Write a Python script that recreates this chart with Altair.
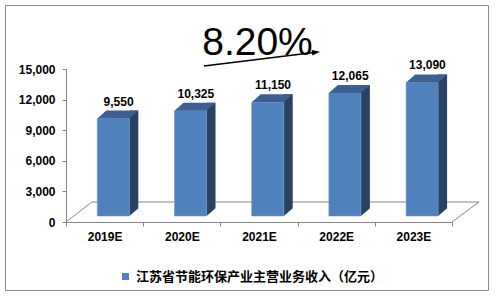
import altair as alt
import pandas as pd

# ---- data ----
years = ["2019E", "2020E", "2021E", "2022E", "2023E"]
revenue = [9550, 10325, 11150, 12065, 13090]
series_name = "江苏省节能环保产业主营业务收入（亿元）"
growth_label = "8.20%"
y_ticks = [0, 3000, 6000, 9000, 12000, 15000]

df = pd.DataFrame({"year": years, "value": revenue, "series": [series_name] * len(years)})
one = pd.DataFrame({"k": [0]})

# ---- style ----
W, H = 386, 153
FRONT = "#4F81BD"
SIDE = "#2A4262"
TOP = "#3B6091"
GRID = "#868686"
LATIN = "Liberation Sans"
CJK = "Noto Sans CJK SC"

TOP_PATH = "M-1,0.195L0.561,0.195L1,-0.195L-0.561,-0.195Z"
BOTTOM_CUT = "M-1,0.9L1.1,0.9L1.1,-0.9Z"
ARROW_HEAD = "M-1,-0.7L1,0L-1,0.7Z"

x_enc = alt.X(
    "year:N", sort=years,
    scale=alt.Scale(paddingInner=0, paddingOuter=0),
    axis=alt.Axis(title=None, labelAngle=0, labelFont=LATIN, labelFontSize=12,
                  labelFontWeight="bold", labelColor="black", tickBand="extent",
                  tickSize=4, tickColor=GRID, domainColor=GRID, labelPadding=5,
                  grid=False),
)


def y_enc(field):
    return alt.Y(
        f"{field}:Q",
        scale=alt.Scale(domain=[0, 15000], nice=False, zero=True),
        axis=alt.Axis(title=None, values=y_ticks, format=",.0f", labelFont=LATIN,
                      labelFontSize=12, labelFontWeight="bold", labelColor="black",
                      tickSize=4, tickColor=GRID, domainColor=GRID, labelPadding=7,
                      grid=False),
    )


base = alt.Chart(df)

frame = alt.Chart(one).mark_rect(fillOpacity=0, stroke="#8a8a8a", strokeWidth=1).encode(
    x=alt.value(-60.5), x2=alt.value(422.5), y=alt.value(-63.5), y2=alt.value(221.5)
)

floor_back = alt.Chart(one).mark_rule(color=GRID, strokeWidth=1).encode(
    x=alt.value(26), x2=alt.value(413), y=alt.value(133), y2=alt.value(133)
)
floor_left = alt.Chart(one).mark_rule(color=GRID, strokeWidth=1).encode(
    x=alt.value(0), x2=alt.value(26), y=alt.value(153), y2=alt.value(133)
)
floor_right = alt.Chart(one).mark_rule(color=GRID, strokeWidth=1).encode(
    x=alt.value(386), x2=alt.value(413), y=alt.value(153), y2=alt.value(133)
)

side = base.mark_bar(size=9, xOffset=29.2, yOffset=-14, y2Offset=-6, color=SIDE).encode(
    x=x_enc, y=y_enc("value"), y2=alt.datum(0)
)
cut = base.transform_calculate(zero="0").mark_point(
    shape=BOTTOM_CUT, size=81, filled=True, opacity=1, color="white",
    strokeWidth=0, xOffset=29.2, yOffset=-10).encode(
    x=x_enc, y=y_enc("zero")
)
front = base.mark_bar(size=32, xOffset=8.7, yOffset=-6, y2Offset=-6,
                      stroke="#6f96c8", strokeWidth=0.6).encode(
    x=x_enc, y=y_enc("value"), y2=alt.datum(0),
    color=alt.Color("series:N", scale=alt.Scale(range=[FRONT]),
                    legend=alt.Legend(title=None, orient="none", legendX=53, legendY=201,
                                      symbolType="square", symbolSize=49,
                                      symbolStrokeWidth=0, labelFont=CJK,
                                      labelFontSize=13, labelFontWeight="bold",
                                      labelColor="black", labelOffset=4, padding=0,
                                      labelLimit=400)),
)
top = base.mark_point(shape=TOP_PATH, size=1681, filled=True, opacity=1, color=TOP,
                      strokeWidth=0, xOffset=13.2, yOffset=-10).encode(
    x=x_enc, y=y_enc("value")
)
labels = base.mark_text(font=LATIN, fontSize=12, fontWeight="bold", color="black",
                        baseline="alphabetic", align="center", xOffset=14, yOffset=-19).encode(
    x=x_enc, y=y_enc("value"), text=alt.Text("value:Q", format=",.0f")
)

arrow_line = alt.Chart(one).mark_rule(color="black", strokeWidth=1.3).encode(
    x=alt.value(138), x2=alt.value(248), y=alt.value(-3), y2=alt.value(-16.5)
)
arrow_head = alt.Chart(one).mark_point(shape=ARROW_HEAD, size=64, filled=True, opacity=1,
                                       color="black", strokeWidth=0, angle=353.2).encode(
    x=alt.value(250), y=alt.value(-16.8)
)
growth = alt.Chart(one).mark_text(text=growth_label, font=LATIN, fontSize=39,
                                  color="black", align="center", baseline="alphabetic").encode(
    x=alt.value(191.5), y=alt.value(-14)
)

chart = alt.layer(
    frame, floor_back, floor_left, floor_right, side, cut, front, top, labels,
    arrow_line, arrow_head, growth
).properties(
    width=W, height=H,
    padding={"left": 66, "top": 69, "right": 43, "bottom": 75},
    autosize=alt.AutoSizeParams(type="none"),
    background="white",
).configure_view(strokeWidth=0)

chart.save("out.html", embed_options={"renderer": "svg", "actions": False})
